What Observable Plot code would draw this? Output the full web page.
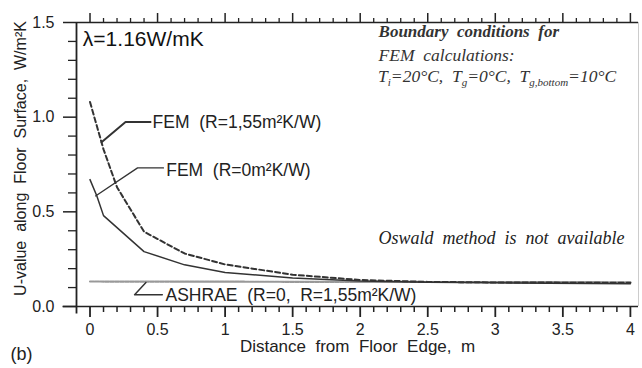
<!DOCTYPE html>
<html>
<head>
<meta charset="utf-8">
<script src="https://cdn.jsdelivr.net/npm/d3@7"></script>
<script src="https://cdn.jsdelivr.net/npm/@observablehq/plot@0.6"></script>
<style>
  html, body { margin: 0; padding: 0; background: #fff; }
  #chart svg { display: block; }
</style>
</head>
<body>
<div id="chart"></div>
<script>
// --- Data ---
const femR0X = [0, 0.05, 0.1, 0.4, 0.7, 1.0, 1.5, 2.0, 2.5, 3.0, 4.0];
const femR0Y = [0.67, 0.585, 0.48, 0.29, 0.22, 0.18, 0.15, 0.135, 0.128, 0.125, 0.12];
const femR155X = [0, 0.1, 0.2, 0.4, 0.7, 1.0, 1.5, 2.0, 2.5, 3.0, 4.0];
const femR155Y = [1.08, 0.83, 0.63, 0.395, 0.28, 0.222, 0.168, 0.14, 0.13, 0.127, 0.125];
const ashraeX = [0, 4];
const ashraeY = [0.132, 0.128];

const xMajor = [0, 0.5, 1, 1.5, 2, 2.5, 3, 3.5, 4];
const xMinor = d3.range(0, 41).map(i => i / 10).filter(v => Math.abs(v * 2 - Math.round(v * 2)) > 1e-6);
const yMajor = [0, 0.5, 1.0, 1.5];
const yMinor = [0.1, 0.2, 0.3, 0.4, 0.6, 0.7, 0.8, 0.9, 1.1, 1.2, 1.3, 1.4];

// leader lines (data units)
const leader155 = [[0.448, 0.974], [0.263, 0.974], [0.085, 0.868]];
const leader0 = [[0.544, 0.732], [0.352, 0.732], [0.041, 0.584]];
const leaderAsh = [[0.414, 0.127], [0.33, 0.062], [0.535, 0.062]];

const sans = "'Liberation Sans', Arial, Helvetica, sans-serif";
const serif = "'Liberation Serif', 'Times New Roman', serif";

const toPts = (xs, ys) => xs.map((x, i) => ({x, y: ys[i]}));

const plot = Plot.plot({
  width: 642,
  height: 368,
  marginLeft: 76,
  marginRight: 4,
  marginTop: 22,
  marginBottom: 62,
  style: {fontFamily: sans, fontSize: "16px", color: "#222", background: "#fff"},
  x: {domain: [-0.1, 4.06]},
  y: {domain: [0, 1.5]},
  marks: [
    // frame
    Plot.ruleX([4.06], {stroke: "#ccc", strokeWidth: 1}),
    Plot.ruleY([1.5], {stroke: "#222", strokeWidth: 1.3}),
    Plot.ruleY([0], {x1: -0.2, x2: 4.06, stroke: "#222", strokeWidth: 1.5, clip: false}),
    Plot.ruleX([-0.1], {y1: -0.04, y2: 1.5, stroke: "#222", strokeWidth: 1.8}),
    // y axis
    Plot.axisY({ticks: yMajor, tickSize: 13, tickPadding: 9, tickFormat: d3.format(".1f"), label: null, fontSize: 16, strokeWidth: 1.5, stroke: "#222"}),
    Plot.axisY({ticks: yMinor, tickSize: 8, tickFormat: () => "", label: null, strokeWidth: 1.3, stroke: "#222"}),
    // bottom x axis
    Plot.axisX({ticks: xMajor, tickSize: 11, tickPadding: 6, tickFormat: d => `${d}`, label: null, fontSize: 16, strokeWidth: 1.8, stroke: "#222"}),
    Plot.axisX({ticks: xMinor, tickSize: 6, tickFormat: () => "", label: null, strokeWidth: 1.5, stroke: "#222"}),
    // top x axis
    Plot.axisX({anchor: "top", ticks: xMajor, tickSize: 10, tickFormat: () => "", label: null, strokeWidth: 1.5, stroke: "#222"}),
    Plot.axisX({anchor: "top", ticks: xMinor, tickSize: 5, tickFormat: () => "", label: null, strokeWidth: 1.3, stroke: "#222"}),
    // series
    Plot.line(toPts(ashraeX, ashraeY), {x: "x", y: "y", stroke: "#999", strokeWidth: 2.2, strokeDasharray: "4,1"}),
    Plot.line(toPts(femR0X, femR0Y), {x: "x", y: "y", stroke: "#333", strokeWidth: 1.5}),
    Plot.line(toPts(femR155X, femR155Y), {x: "x", y: "y", stroke: "#333", strokeWidth: 2, strokeDasharray: "5,3"}),
    // leaders
    Plot.line(leader155, {x: d => d[0], y: d => d[1], stroke: "#333", strokeWidth: 2}),
    Plot.line(leader0, {x: d => d[0], y: d => d[1], stroke: "#333", strokeWidth: 1.3}),
    Plot.line(leaderAsh, {x: d => d[0], y: d => d[1], stroke: "#333", strokeWidth: 1.5}),
    // labels
    Plot.text(["λ=1.16W/mK"], {x: -0.053, y: 1.41, textAnchor: "start", fontSize: 21, fill: "#111"}),
    Plot.text(["FEM  (R=1,55m²K/W)"], {x: 0.463, y: 0.974, textAnchor: "start", fontSize: 17.5, fill: "#222"}),
    Plot.text(["FEM  (R=0m²K/W)"], {x: 0.564, y: 0.721, textAnchor: "start", fontSize: 17.5, fill: "#222"}),
    Plot.text(["ASHRAE  (R=0,  R=1,55m²K/W)"], {x: 0.559, y: 0.06, textAnchor: "start", fontSize: 17.5, fill: "#222"}),
    Plot.text(["Boundary  conditions  for"], {x: 2.136, y: 1.45, textAnchor: "start", fontSize: 17, fontStyle: "italic", fontWeight: "bold", fontFamily: serif, fill: "#333"}),
    Plot.text(["FEM  calculations:"], {x: 2.136, y: 1.326, textAnchor: "start", fontSize: 17.5, fontStyle: "italic", fontFamily: serif, fill: "#333"}),
    Plot.text(["Oswald  method  is  not  available"], {x: 2.136, y: 0.358, textAnchor: "start", fontSize: 18, fontStyle: "italic", fontFamily: serif, fill: "#222"}),
    Plot.text(["Distance  from  Floor  Edge,  m"], {frameAnchor: "bottom", dy: 45, fontSize: 17, fill: "#222"}),
    Plot.text(["U-value  along  Floor  Surface,  W/m²K"], {frameAnchor: "left", textAnchor: "middle", rotate: -90, dx: -56, dy: -6, fontSize: 16, fill: "#222"}),
    Plot.text(["(b)"], {frameAnchor: "bottom-left", textAnchor: "start", dx: -66, dy: 53, fontSize: 18, fill: "#222"})
  ]
});

// boundary conditions line with subscripts (positioned via the plot's scales)
const sx = plot.scale("x"), sy = plot.scale("y");
const svg = d3.select(plot.tagName === "svg" ? plot : plot.querySelector("svg"));
const t = svg.append("text")
  .attr("x", sx.apply(2.136))
  .attr("y", sy.apply(1.213))
  .attr("dy", "0.35em")
  .attr("text-anchor", "start")
  .attr("font-family", serif)
  .attr("font-style", "italic")
  .attr("font-size", 17.5)
  .attr("fill", "#333");
const parts = [
  ["T", 0], ["i", 1], ["=20°C,  T", 0], ["g", 1], ["=0°C,  T", 0], ["g,bottom", 1], ["=10°C", 0]
];
parts.forEach(([s, sub], i) => {
  const ts = t.append("tspan").text(s);
  if (sub) ts.attr("font-size", 11).attr("dy", 4);
  else if (i > 0 && parts[i - 1][1]) ts.attr("dy", -4);
});

document.getElementById("chart").appendChild(plot);
</script>
</body>
</html>
